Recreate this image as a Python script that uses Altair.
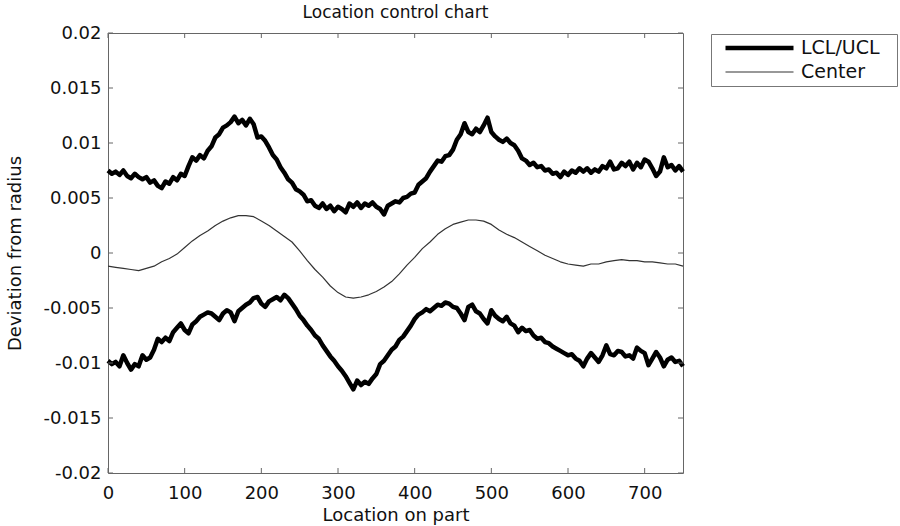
import altair as alt
import pandas as pd

# ---------------- data ----------------
x_fine = list(range(0, 751, 5))
ucl = [
    0.0075, 0.0072, 0.0074, 0.0071, 0.0075, 0.0070, 0.0068, 0.0072, 0.0069, 0.0067,
    0.0069, 0.0064, 0.0066, 0.0061, 0.0059, 0.0065, 0.0063, 0.0069, 0.0066, 0.0072,
    0.0070, 0.0079, 0.0087, 0.0084, 0.0089, 0.0086, 0.0093, 0.0097, 0.0105, 0.0108,
    0.0114, 0.0116, 0.0119, 0.0124, 0.0118, 0.0121, 0.0116, 0.0122, 0.0117, 0.0105,
    0.0106, 0.0102, 0.0096, 0.0089, 0.0085, 0.0078, 0.0073, 0.0067, 0.0064, 0.0058,
    0.0056, 0.0053, 0.0047, 0.0048, 0.0043, 0.0041, 0.0045, 0.0040, 0.0043, 0.0038,
    0.0042, 0.0040, 0.0037, 0.0045, 0.0042, 0.0046, 0.0041, 0.0045, 0.0043, 0.0046,
    0.0042, 0.0040, 0.0035, 0.0043, 0.0045, 0.0047, 0.0046, 0.0050, 0.0051, 0.0054,
    0.0055, 0.0062, 0.0065, 0.0068, 0.0074, 0.0079, 0.0084, 0.0083, 0.0088, 0.0089,
    0.0094, 0.0103, 0.0108, 0.0118, 0.0110, 0.0108, 0.0113, 0.0110, 0.0116, 0.0123,
    0.0110, 0.0106, 0.0103, 0.0101, 0.0104, 0.0100, 0.0098, 0.0093, 0.0086, 0.0084,
    0.0080, 0.0082, 0.0078, 0.0079, 0.0075, 0.0076, 0.0072, 0.0073, 0.0069, 0.0074,
    0.0071, 0.0075, 0.0073, 0.0077, 0.0074, 0.0077, 0.0073, 0.0076, 0.0074, 0.0079,
    0.0077, 0.0083, 0.0076, 0.0077, 0.0082, 0.0079, 0.0083, 0.0076, 0.0082, 0.0078,
    0.0085, 0.0083, 0.0077, 0.0070, 0.0074, 0.0087, 0.0078, 0.0080, 0.0075, 0.0079,
    0.0074,
]
lcl = [
    -0.0098, -0.0101, -0.0099, -0.0103, -0.0093, -0.0100, -0.0106, -0.0101, -0.0103, -0.0093,
    -0.0097, -0.0095, -0.0088, -0.0078, -0.0081, -0.0077, -0.0080, -0.0072, -0.0068, -0.0064,
    -0.0070, -0.0073, -0.0065, -0.0062, -0.0058, -0.0056, -0.0054, -0.0055, -0.0058, -0.0061,
    -0.0055, -0.0052, -0.0054, -0.0062, -0.0053, -0.0050, -0.0047, -0.0045, -0.0041, -0.0040,
    -0.0046, -0.0049, -0.0044, -0.0042, -0.0040, -0.0043, -0.0038, -0.0041, -0.0046, -0.0051,
    -0.0057, -0.0061, -0.0066, -0.0070, -0.0075, -0.0078, -0.0084, -0.0089, -0.0094, -0.0098,
    -0.0103, -0.0107, -0.0112, -0.0118, -0.0124, -0.0116, -0.0120, -0.0117, -0.0119, -0.0114,
    -0.0110, -0.0101, -0.0098, -0.0093, -0.0088, -0.0085, -0.0079, -0.0076, -0.0071, -0.0066,
    -0.0060, -0.0056, -0.0054, -0.0051, -0.0053, -0.0050, -0.0047, -0.0048, -0.0045, -0.0046,
    -0.0049, -0.0050, -0.0055, -0.0061, -0.0049, -0.0047, -0.0053, -0.0055, -0.0060, -0.0064,
    -0.0052, -0.0057, -0.0060, -0.0062, -0.0058, -0.0064, -0.0066, -0.0072, -0.0068, -0.0071,
    -0.0070, -0.0075, -0.0078, -0.0077, -0.0081, -0.0082, -0.0085, -0.0087, -0.0089, -0.0091,
    -0.0093, -0.0092, -0.0096, -0.0098, -0.0103, -0.0096, -0.0091, -0.0095, -0.0099, -0.0093,
    -0.0084, -0.0092, -0.0093, -0.0089, -0.0090, -0.0094, -0.0093, -0.0096, -0.0086, -0.0089,
    -0.0091, -0.0102, -0.0096, -0.0090, -0.0095, -0.0103, -0.0097, -0.0095, -0.0099, -0.0098,
    -0.0103,
]
x_center = list(range(0, 751, 10))
center = [
    -0.0012, -0.0013, -0.0014, -0.0015, -0.0016, -0.0014, -0.0012, -0.0008, -0.0005, -0.0001,
    0.0005, 0.0011, 0.0016, 0.0020, 0.0025, 0.0029, 0.0032, 0.0034, 0.0034, 0.0033,
    0.0029, 0.0025, 0.0020, 0.0015, 0.0010, 0.0002, -0.0007, -0.0015, -0.0022, -0.0030,
    -0.0036, -0.0040, -0.0041, -0.0040, -0.0038, -0.0035, -0.0031, -0.0026, -0.0019, -0.0011,
    -0.0004, 0.0004, 0.0010, 0.0017, 0.0022, 0.0026, 0.0028, 0.0030, 0.0030, 0.0029,
    0.0026, 0.0021, 0.0017, 0.0014, 0.0010, 0.0006, 0.0002, -0.0002, -0.0005, -0.0008,
    -0.0010, -0.0011, -0.0012, -0.0010, -0.0010, -0.0008, -0.0007, -0.0006, -0.0007, -0.0007,
    -0.0008, -0.0008, -0.0009, -0.0010, -0.0010, -0.0012,
]
x_ticks = [0, 100, 200, 300, 400, 500, 600, 700]
y_ticks = [-0.02, -0.015, -0.01, -0.005, 0, 0.005, 0.01, 0.015, 0.02]
series_names = ["LCL/UCL", "Center"]

# ---------------- table ----------------
rows = []
for xv, v in zip(x_fine, ucl):
    rows.append({"loc": xv, "dev": v, "line": "UCL", "key": "LCL/UCL"})
for xv, v in zip(x_center, center):
    rows.append({"loc": xv, "dev": v, "line": "Center", "key": "Center"})
for xv, v in zip(x_fine, lcl):
    rows.append({"loc": xv, "dev": v, "line": "LCL", "key": "LCL/UCL"})
df = pd.DataFrame(rows)

FONT = "DejaVu Sans"
W, H = 575, 440
xscale = alt.Scale(domain=[0, 750], nice=False, zero=False)
yscale = alt.Scale(domain=[-0.02, 0.02], nice=False, zero=False)

x_axis = alt.Axis(
    values=x_ticks, title="Location on part", ticks=False, domain=False, grid=False,
    labelFont=FONT, labelFontSize=18, labelColor="#111111", labelPadding=11,
    labelFlush=False, labelOverlap=False,
    titleFont=FONT, titleFontSize=18, titleFontWeight="normal", titleColor="#111111",
    titleX=W / 2, titleY=47, titleBaseline="alphabetic")
y_axis = alt.Axis(
    values=y_ticks, title="Deviation from radius", ticks=False, domain=False, grid=False,
    labelExpr="'' + datum.value", labelFont=FONT, labelFontSize=18, labelColor="#111111",
    labelPadding=7, labelFlush=False, labelOverlap=False,
    titleFont=FONT, titleFontSize=18, titleFontWeight="normal", titleColor="#111111",
    titleX=-93, titleY=H / 2, titleAngle=270, titleBaseline="middle", titleAlign="center")

BLANK = "\u2800"  # blank glyph used only to widen the legend frame
legend_cfg = dict(
    title=None, orient="none", legendX=603, legendY=1,
    strokeColor="#777777", fillColor="white", padding=3,
    symbolType="stroke", symbolSize=4624, clipHeight=22, rowPadding=2,
    symbolOffset=9, labelOffset=5, labelFontSize=19, labelFont=FONT,
    labelColor="#111111", labelExpr="datum.label + '" + BLANK + "'",
)

lines = alt.Chart(df).mark_line(strokeJoin="round").encode(
    x=alt.X("loc:Q", scale=xscale, axis=x_axis, title="Location on part"),
    y=alt.Y("dev:Q", scale=yscale, axis=y_axis, title="Deviation from radius"),
    color=alt.Color("key:N", scale=alt.Scale(domain=series_names, range=["#000000", "#333333"]),
                    legend=alt.Legend(**legend_cfg)),
    strokeWidth=alt.StrokeWidth("key:N", scale=alt.Scale(domain=series_names, range=[4.5, 1.2]),
                                legend=alt.Legend(**legend_cfg)),
    detail="line:N",
)

xt = pd.DataFrame({"loc": x_ticks})
yt = pd.DataFrame({"dev": y_ticks})
tick_color = "#666666"
bottom_ticks = alt.Chart(xt).mark_rule(color=tick_color, strokeWidth=1).encode(
    x=alt.X("loc:Q", scale=xscale, axis=x_axis, title="Location on part"),
    y=alt.value(H), y2=alt.value(H - 5))
top_ticks = alt.Chart(xt).mark_rule(color=tick_color, strokeWidth=1).encode(
    x=alt.X("loc:Q", scale=xscale, axis=x_axis, title="Location on part"),
    y=alt.value(0), y2=alt.value(5))
left_ticks = alt.Chart(yt).mark_rule(color=tick_color, strokeWidth=1).encode(
    y=alt.Y("dev:Q", scale=yscale, axis=y_axis, title="Deviation from radius"),
    x=alt.value(0), x2=alt.value(5))
right_ticks = alt.Chart(yt).mark_rule(color=tick_color, strokeWidth=1).encode(
    y=alt.Y("dev:Q", scale=yscale, axis=y_axis, title="Deviation from radius"),
    x=alt.value(W), x2=alt.value(W - 5))

chart = alt.layer(lines, bottom_ticks, top_ticks, left_ticks, right_ticks).properties(
    width=W, height=H,
    padding={"left": 108, "top": 33, "right": 217, "bottom": 53},
    autosize=alt.AutoSizeParams(type="none"),
    title=alt.TitleParams("Location control chart", font=FONT, fontSize=17, fontWeight="normal",
                          color="#111111", anchor="middle", offset=2),
    background="white",
).configure_view(stroke="#666666", strokeWidth=1)

chart.save("out.html", embed_options={"renderer": "svg", "actions": False})
